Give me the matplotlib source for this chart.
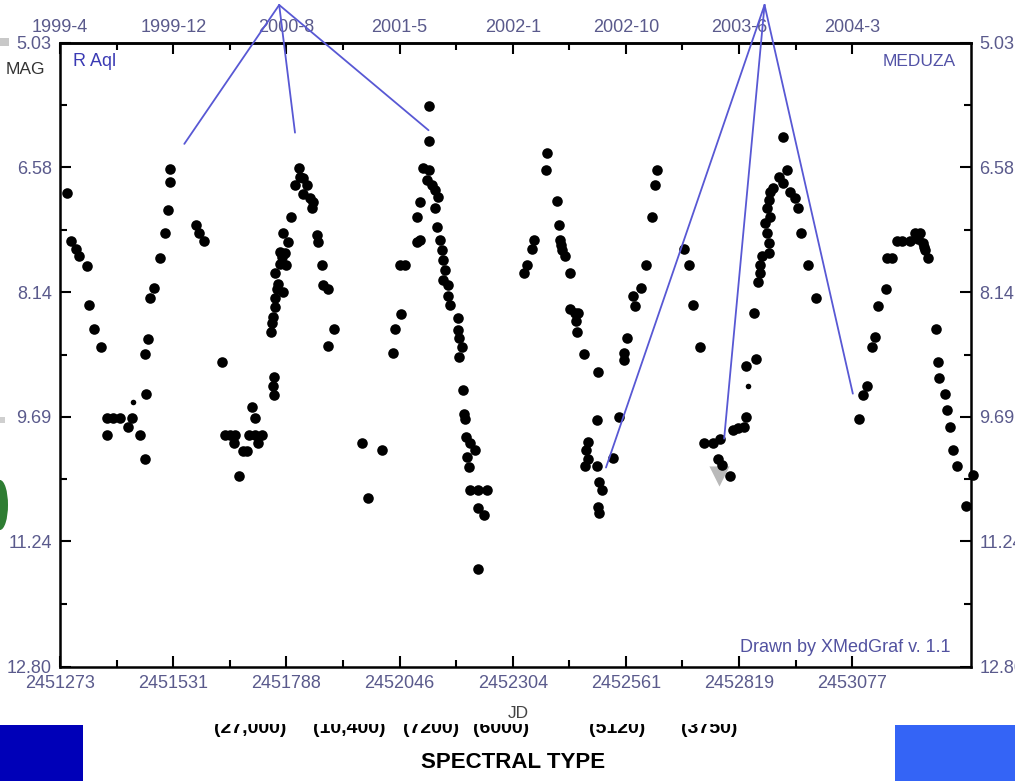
import matplotlib
matplotlib.use("Agg")
import matplotlib.pyplot as plt
from matplotlib.patches import Rectangle, Ellipse

plt.rcParams['font.family'] = ['Liberation Sans', 'DejaVu Sans']

# ---------------------------------------------------------------- data
# Visual estimates of R Aql (JD, magnitude)
jd = [
    2451288, 2451297, 2451309, 2451316, 2451334, 2451338, 2451351, 2451366,
    2451379, 2451381, 2451394, 2451410, 2451427, 2451436, 2451455, 2451467,
    2451469, 2451467, 2451474, 2451478, 2451488, 2451501, 2451511, 2451518,
    2451524, 2451524, 2451582, 2451590, 2451601,
    2451641, 2451649, 2451660, 2451668, 2451671, 2451681, 2451690, 2451698,
    2451704, 2451709, 2451717, 2451717, 2451724, 2451732, 2451760, 2451759,
    2451760, 2451753, 2451755, 2451759, 2451763, 2451763, 2451766, 2451770,
    2451763, 2451781, 2451774, 2451788, 2451774, 2451785, 2451778, 2451791,
    2451781, 2451798, 2451816, 2451819, 2451827, 2451808, 2451835, 2451827,
    2451842, 2451850, 2451846, 2451857, 2451861, 2451870, 2451872, 2451884,
    2451897, 2451882, 2451961, 2451974, 2452005,
    2452032, 2452036, 2452049, 2452046, 2452058, 2452085, 2452093, 2452086,
    2452093, 2452100, 2452112, 2452108, 2452119, 2452127, 2452134, 2452127,
    2452112, 2452113, 2452131, 2452138, 2452142, 2452146, 2452150, 2452146,
    2452157, 2452157, 2452161, 2452180, 2452180, 2452182, 2452188, 2452182,
    2452190, 2452193, 2452195, 2452197, 2452207, 2452218, 2452200, 2452203,
    2452207, 2452225, 2452245, 2452225, 2452238, 2452225,
    2452330, 2452336, 2452348, 2452352, 2452379, 2452381, 2452405, 2452408,
    2452411, 2452414, 2452415, 2452423, 2452434, 2452434, 2452446, 2452453,
    2452448, 2452449, 2452467, 2452497, 2452495, 2452474, 2452471, 2452476,
    2452468, 2452495, 2452499, 2452508, 2452497, 2452499, 2452533, 2452546,
    2452557, 2452557, 2452563, 2452577, 2452582, 2452595, 2452607, 2452620,
    2452628, 2452632, 2452694, 2452705, 2452715, 2452730,
    2452740, 2452759, 2452776, 2452772, 2452780, 2452799, 2452806, 2452817,
    2452830, 2452835, 2452835, 2452857, 2452852, 2452861, 2452867, 2452867,
    2452871, 2452886, 2452886, 2452882, 2452878, 2452890, 2452882, 2452886,
    2452890, 2452897, 2452909, 2452928, 2452920, 2452935, 2452947, 2452954,
    2452918, 2452960, 2452977, 2452994,
    2453093, 2453101, 2453111, 2453121, 2453129, 2453136, 2453153, 2453155,
    2453167, 2453178, 2453190, 2453208, 2453220, 2453231, 2453227, 2453237,
    2453239, 2453243, 2453248, 2453268, 2453271, 2453275, 2453288, 2453293,
    2453299, 2453307, 2453316, 2453351, 2453336,
]
mag = [
    6.90, 7.50, 7.60, 7.69, 7.81, 8.30, 8.60, 8.82,
    9.70, 9.92, 9.70, 9.70, 9.81, 9.70, 9.92, 10.21,
    9.41, 8.91, 8.72, 8.21, 8.09, 7.71, 7.40, 7.11,
    6.77, 6.60, 7.30, 7.40, 7.50,
    9.00, 9.92, 9.92, 10.02, 9.92, 10.43, 10.11, 10.11,
    9.92, 9.57, 9.70, 9.92, 10.02, 9.92, 9.19, 9.31,
    9.42, 8.63, 8.52, 8.44, 8.32, 8.21, 8.10, 8.03,
    7.90, 8.13, 7.78, 7.80, 7.63, 7.65, 7.70, 7.51,
    7.40, 7.20, 6.59, 6.70, 6.72, 6.80, 6.80, 6.91,
    6.97, 7.01, 7.09, 7.43, 7.51, 7.80, 8.05, 8.10,
    8.60, 8.81, 10.01, 10.70, 10.10,
    8.90, 8.60, 8.41, 7.80, 7.80, 7.51, 7.49, 7.20,
    7.01, 6.59, 6.62, 6.74, 6.80, 6.86, 6.95, 7.09,
    6.26, 5.82, 7.32, 7.49, 7.61, 7.74, 7.86, 7.98,
    8.05, 8.19, 8.30, 8.46, 8.61, 8.71, 8.82, 8.94,
    9.36, 9.65, 9.71, 9.94, 10.02, 10.10, 10.19, 10.31,
    10.60, 10.60, 10.60, 10.83, 10.91, 11.58,
    7.90, 7.80, 7.60, 7.49, 6.61, 6.40, 7.00, 7.30,
    7.49, 7.55, 7.61, 7.69, 7.90, 8.34, 8.39, 8.40,
    8.50, 8.63, 8.91, 9.13, 9.73, 10.00, 10.10, 10.21,
    10.30, 10.30, 10.50, 10.60, 10.81, 10.88, 10.20, 9.69,
    8.90, 8.98, 8.71, 8.19, 8.31, 8.09, 7.80, 7.20,
    6.80, 6.61, 7.60, 7.80, 8.30, 8.82,
    10.01, 10.01, 9.97, 10.21, 10.29, 10.43, 9.85, 9.83,
    9.81, 9.69, 9.06, 8.97, 8.40, 8.01, 7.90, 7.80,
    7.69, 7.65, 7.53, 7.40, 7.28, 7.20, 7.09, 6.99,
    6.89, 6.84, 6.70, 6.61, 6.78, 6.89, 6.97, 7.09,
    6.21, 7.40, 7.80, 8.21,
    9.71, 9.42, 9.31, 8.82, 8.70, 8.31, 8.10, 7.71,
    7.71, 7.50, 7.50, 7.50, 7.40, 7.40, 7.47, 7.53,
    7.57, 7.61, 7.71, 8.60, 9.01, 9.20, 9.40, 9.60,
    9.82, 10.10, 10.30, 10.41, 10.80,
]
# low-weight estimates (drawn with a smaller dot)
jd_small = [2451439, 2452840]
mag_small = [9.51, 9.30]
# "fainter than" estimate
jd_limit = [2452774]
mag_limit = [10.43]

# pointer lines: apex and the three end points of each fan
fan_apex_jd = [2451772, 2452877]
fan_apex_mag = [4.56, 4.56]
fan_end_jd = [[2451556, 2451808, 2452112], [2452516, 2452785, 2453078]]
fan_end_mag = [[6.29, 6.15, 6.12], [10.32, 9.96, 9.40]]

jd_ticks = [2451273, 2451531, 2451788, 2452046, 2452304, 2452561, 2452819, 2453077]
date_labels = ['1999-4', '1999-12', '2000-8', '2001-5', '2002-1', '2002-10', '2003-6', '2004-3']
mag_ticks = [5.03, 6.58, 8.14, 9.69, 11.24, 12.80]
jd_min, jd_max = 2451273, 2453347

spectral_temps = ['(27,000)', '(10,400)', '(7200)', '(6000)', '(5120)', '(3750)']
spectral_xpix = [250, 349, 431, 501, 617, 709]

# ---------------------------------------------------------------- layout
W, H = 1015, 781
fig = plt.figure(figsize=(W / 100, H / 100), dpi=100)
fig.patch.set_facecolor('white')


def fx(px):
    return px / W


def fy(py):
    return 1 - py / H


ax = fig.add_axes([fx(60), fy(666.7), fx(971) - fx(60), fy(42.7) - fy(666.7)])
ax.set_xlim(jd_min, jd_max)
ax.set_ylim(mag_ticks[-1], mag_ticks[0])

label_col = '#5a5a8c'
ax.set_xticks(jd_ticks)
ax.set_xticklabels([str(t) for t in jd_ticks])
ax.set_xticks([(a + b) / 2 for a, b in zip(jd_ticks[:-1], jd_ticks[1:])], minor=True)
ax.set_yticks(mag_ticks)
ax.set_yticklabels([f'{m:.2f}' for m in mag_ticks])
ax.set_yticks([(a + b) / 2 for a, b in zip(mag_ticks[:-1], mag_ticks[1:])], minor=True)

ax.tick_params(which='both', direction='in', color='black', width=1.5,
               left=True, right=True, bottom=True, top=False,
               labelleft=True, labelright=True, labelsize=13, labelcolor=label_col)
ax.tick_params(which='major', length=8)
ax.tick_params(which='minor', length=5)
ax.tick_params(axis='x', pad=6)
ax.tick_params(axis='y', pad=6)
for sp in ax.spines.values():
    sp.set_linewidth(1.8)
    sp.set_color('black')

sec = ax.secondary_xaxis('top')
sec.set_xticks(jd_ticks)
sec.set_xticklabels(date_labels)
sec.set_xticks([(a + b) / 2 for a, b in zip(jd_ticks[:-1], jd_ticks[1:])], minor=True)
sec.tick_params(which='both', direction='in', color='black', width=1.5,
                labelsize=13, labelcolor=label_col, pad=5)
sec.tick_params(which='major', length=8)
sec.tick_params(which='minor', length=5)
sec.spines['top'].set_linewidth(1.8)

# ---------------------------------------------------------------- marks
ax.scatter(jd_limit, mag_limit, marker='v', s=210, color='#b9b9b9',
           linewidths=0, zorder=2, clip_on=False)
ax.scatter(jd, mag, s=58, color='black', linewidths=0, zorder=3, clip_on=False)
ax.scatter(jd_small, mag_small, s=16, color='black', linewidths=0, zorder=3, clip_on=False)

for a_jd, a_mag, e_jds, e_mags in zip(fan_apex_jd, fan_apex_mag, fan_end_jd, fan_end_mag):
    for e_jd, e_mag in zip(e_jds, e_mags):
        ax.plot([a_jd, e_jd], [a_mag, e_mag], color='#5858d4', lw=1.3,
                zorder=4, clip_on=False, solid_capstyle='round')

# ---------------------------------------------------------------- texts
fig.text(fx(25), fy(70), 'MAG', ha='center', va='center', fontsize=12.5, color='#333333')
fig.text(fx(73), fy(62), 'R Aql', ha='left', va='center', fontsize=13, color='#3a3ab4')
fig.text(fx(956), fy(62), 'MEDUZA', ha='right', va='center', fontsize=12.5, color='#5252a6')
fig.text(fx(950), fy(648), 'Drawn by XMedGraf v. 1.1', ha='right', va='center',
         fontsize=13, color='#5252a0')

# ---------------------------------------------------------------- lower strip
fig.add_artist(Rectangle((fx(0), fy(781)), fx(82.7), fy(725) - fy(781),
                         transform=fig.transFigure, color='#0000b8', lw=0))
fig.add_artist(Rectangle((fx(895), fy(781)), fx(1015) - fx(895), fy(725) - fy(781),
                         transform=fig.transFigure, color='#3464f6', lw=0))
for lab, xp in zip(spectral_temps, spectral_xpix):
    fig.text(fx(xp), fy(733), lab, ha='center', va='baseline',
             fontsize=14, fontweight='bold', color='black', zorder=3)
# the temperature row is cut off along its top edge
fig.add_artist(Rectangle((fx(150), fy(723.5)), fx(800) - fx(150), fy(698) - fy(723.5),
                         transform=fig.transFigure, color='white', lw=0, zorder=10))
fig.text(fx(518), fy(713), 'JD', ha='center', va='center', fontsize=12.5,
         color='#444444', zorder=11)
fig.text(fx(513), fy(762), 'SPECTRAL TYPE', ha='center', va='center',
         fontsize=16, fontweight='bold', color='black')

# edge remnants
fig.add_artist(Ellipse((fx(0), fy(505)), fx(16), fy(480) - fy(530),
                       transform=fig.transFigure, color='#2e7d32', lw=0))
fig.add_artist(Rectangle((fx(0), fy(46)), fx(9), fy(38) - fy(46),
                         transform=fig.transFigure, color='#c8c8c8', lw=0))
fig.add_artist(Rectangle((fx(0), fy(423)), fx(5), fy(417) - fy(423),
                         transform=fig.transFigure, color='#cfcfcf', lw=0))

fig.savefig('out.png', dpi=100, facecolor='white')
